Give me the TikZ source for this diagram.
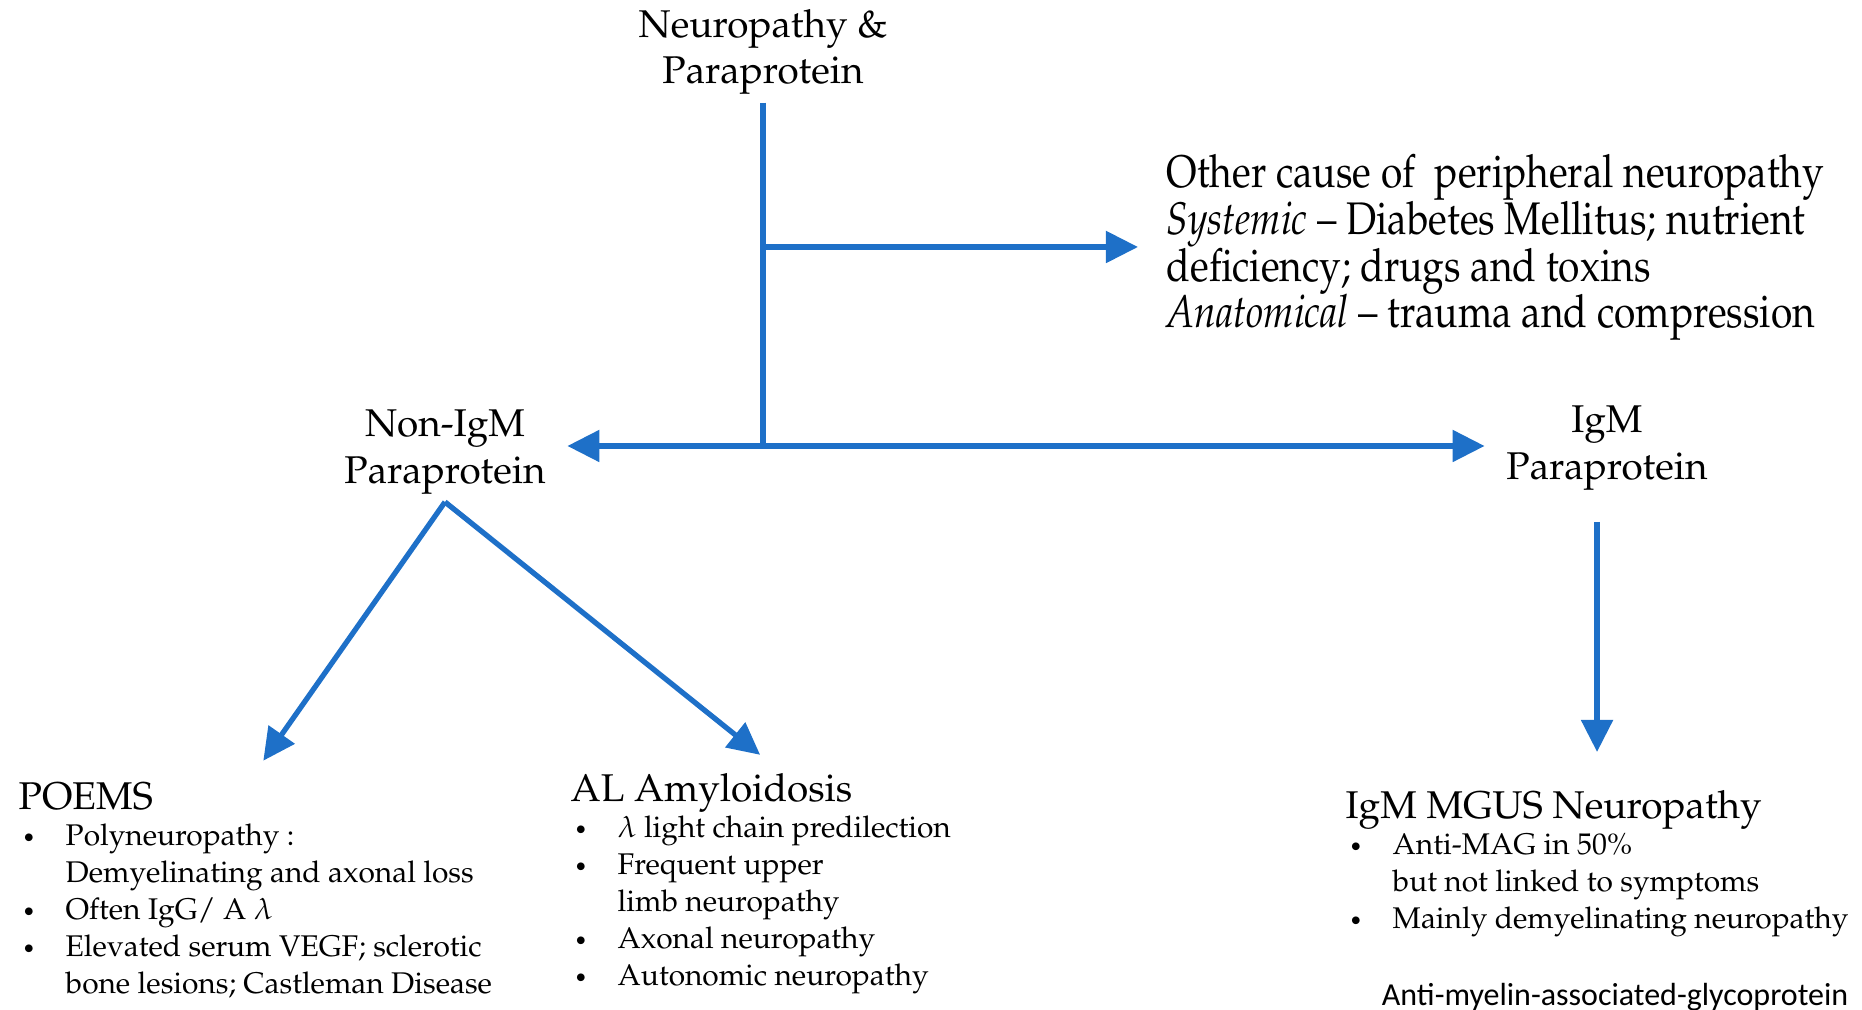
\documentclass[tikz,border=0pt]{standalone}
\usepackage{fontspec}
\newfontfamily\notefont{Carlito}
\usepackage[T1]{fontenc}
\usepackage{mathpazo}
\usepackage{graphicx}
\usetikzlibrary{arrows.meta}

\definecolor{flowblue}{RGB}{30,112,200}

\tikzset{
  conn/.style={draw=flowblue, line width=1.5pt},
  arr/.style={conn, -{Triangle[length=0.32cm,width=0.31cm]}},
  lbl/.style={align=center, inner xsep=6pt, inner ysep=2pt, font=\fontsize{11}{13.3}\selectfont},
  block/.style={anchor=north west, inner sep=0pt, font=\fontsize{8.5}{10.5}\selectfont},
}

\newcommand{\hd}[1]{\multicolumn{2}{@{}l@{}}{\fontsize{11}{13}\selectfont #1}\\[-0.3pt]}
\newcommand{\itm}{\hspace{1pt}\scalebox{0.75}{\textbullet}}

\begin{document}
\begin{tikzpicture}[x=0.01cm, y=-0.01cm]
		\useasboundingbox (0,0) rectangle (1862,1010);

		\node[lbl] (neuro) at (763,52) {Neuropathy \&\\Paraprotein};
		\coordinate (jmid) at (763,247);
		\coordinate (jbot) at (763,446);

		\node[anchor=west, inner sep=0pt, font=\fontsize{13}{13}\selectfont] (other) at (1166,248) {\scalebox{0.85}[1]{\begin{tabular}{@{}l@{}}
		Other cause of\ \ peripheral neuropathy\\
		\textit{Systemic} -- Diabetes Mellitus; nutrient\\
		deficiency; drugs and toxins\\
		\textit{Anatomical} -- trauma and compression
		\end{tabular}}};

		\node[lbl] (nonigm) at (445,452) {Non-IgM\\Paraprotein};
		\node[lbl] (igm) at (1607,448) {IgM\\Paraprotein};

		\node[block] (poems) at (18,782) {\begin{tabular}{@{}p{0.47cm}@{}l@{}}
		\hd{POEMS}
		\itm & Polyneuropathy :\\
		     & Demyelinating and axonal loss\\
		\itm & Often IgG/ A $\lambda$\\
		\itm & Elevated serum VEGF; sclerotic\\
		     & bone lesions; Castleman Disease
		\end{tabular}};

		\node[block] (al) at (570,773) {\begin{tabular}{@{}p{0.47cm}@{}l@{}}
		\hd{AL Amyloidosis}
		\itm & $\lambda$ light chain predilection\\
		\itm & Frequent upper\\
		     & limb neuropathy\\
		\itm & Axonal neuropathy\\
		\itm & Autonomic neuropathy
		\end{tabular}};

		\node[block] (mgus) at (1345,790) {\begin{tabular}{@{}p{0.47cm}@{}l@{}}
		\hd{IgM MGUS Neuropathy}
		\itm & Anti-MAG in 50\%\\
		     & but not linked to symptoms\\
		\itm & Mainly demyelinating neuropathy
		\end{tabular}};

		\node[anchor=base east, inner sep=0pt, font=\notefont\fontsize{9.1}{11}\selectfont] (note) at (1849,1006) {Anti-myelin-associated-glycoprotein};

		\draw[conn] (neuro) -- (jbot);
		\draw[arr, shorten >=0.28cm] (jmid) -- (jmid -| other.west);
		\draw[arr] (jbot) -- (jbot -| nonigm.east);
		\draw[arr] (jbot) -- (jbot -| igm.west);

		\draw[arr, shorten >=0.26cm] (nonigm.south) -- ([xshift=-0.07cm]poems.north);
		\draw[arr, shorten >=0.29cm] (nonigm.south) -- ([xshift=0.22cm]al.north);
		\draw[arr, shorten <=0.24cm, shorten >=0.38cm] (mgus.north |- igm.south) -- (mgus.north);

	\end{tikzpicture}
\end{document}
